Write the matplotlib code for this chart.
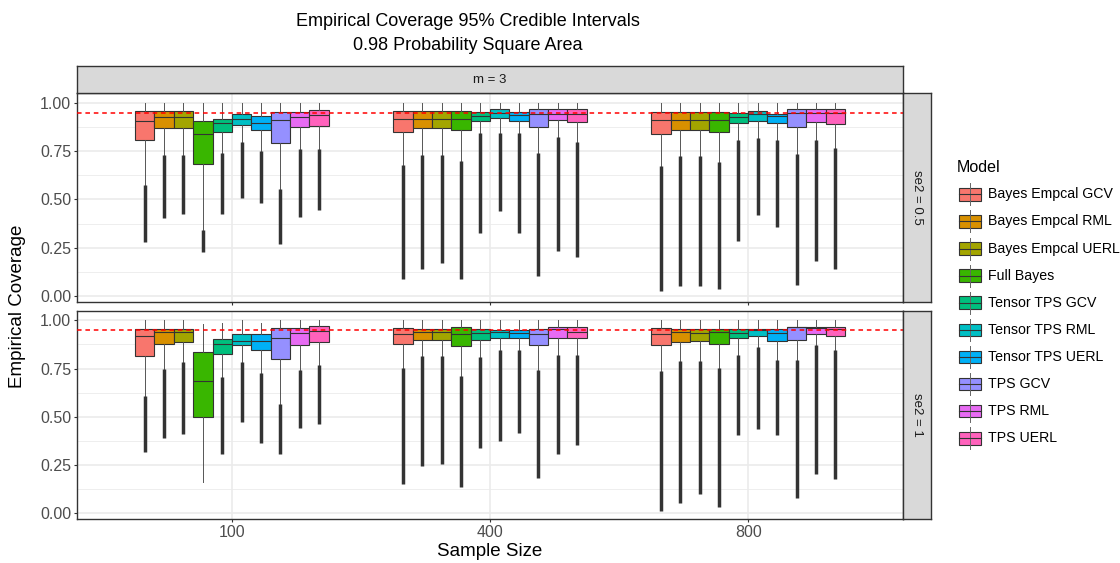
import numpy as np
import matplotlib
matplotlib.use("Agg")
import matplotlib.pyplot as plt
from matplotlib.patches import Rectangle

plt.rcParams['font.family'] = ['Liberation Sans', 'DejaVu Sans']

### Figure size in pixels
W, H = 1120, 563

### Categories
models = ["Bayes Empcal GCV", "Bayes Empcal RML", "Bayes Empcal UERL", "Full Bayes",
          "Tensor TPS GCV", "Tensor TPS RML", "Tensor TPS UERL", "TPS GCV", "TPS RML", "TPS UERL"]
colors = ["#F8766D", "#D89000", "#A3A500", "#39B600", "#00BF7D",
          "#00BFC4", "#00B0F6", "#9590FF", "#E76BF3", "#FF62BC"]
sizes = ["100", "400", "800"]
facets = ["se2 = 0.5", "se2 = 1"]
target = 0.95

### se2 = 0.5 (rows: sample size 100, 400, 800; columns: models)
q3_a = [[0.958, 0.958, 0.958, 0.908, 0.919, 0.943, 0.931, 0.951, 0.951, 0.962],
        [0.960, 0.960, 0.960, 0.960, 0.953, 0.967, 0.953, 0.967, 0.967, 0.967],
        [0.951, 0.951, 0.951, 0.951, 0.946, 0.960, 0.943, 0.967, 0.967, 0.967]]
med_a = [[0.908, 0.929, 0.929, 0.839, 0.896, 0.919, 0.896, 0.914, 0.929, 0.936],
         [0.919, 0.919, 0.919, 0.919, 0.931, 0.946, 0.936, 0.941, 0.941, 0.941],
         [0.912, 0.912, 0.912, 0.912, 0.929, 0.945, 0.934, 0.946, 0.946, 0.946]]
q1_a = [[0.807, 0.869, 0.869, 0.684, 0.850, 0.884, 0.860, 0.794, 0.874, 0.881],
        [0.848, 0.869, 0.869, 0.858, 0.908, 0.922, 0.908, 0.876, 0.910, 0.900],
        [0.841, 0.862, 0.862, 0.851, 0.895, 0.907, 0.895, 0.874, 0.903, 0.891]]
wlo_a = [[0.575, 0.730, 0.730, 0.342, 0.743, 0.800, 0.753, 0.554, 0.760, 0.760],
         [0.679, 0.731, 0.731, 0.701, 0.846, 0.846, 0.846, 0.739, 0.824, 0.800],
         [0.675, 0.725, 0.725, 0.696, 0.808, 0.820, 0.808, 0.736, 0.808, 0.768]]
whi_a = [[1.0] * 10, [1.0] * 10, [1.0] * 10]
min_a = [[0.281, 0.403, 0.425, 0.226, 0.425, 0.506, 0.480, 0.271, 0.408, 0.446],
         [0.088, 0.138, 0.169, 0.086, 0.325, 0.442, 0.325, 0.104, 0.235, 0.204],
         [0.026, 0.053, 0.053, 0.034, 0.287, 0.420, 0.356, 0.057, 0.183, 0.141]]

### se2 = 1
q3_b = [[0.957, 0.957, 0.957, 0.836, 0.905, 0.931, 0.931, 0.960, 0.960, 0.969],
        [0.960, 0.957, 0.957, 0.967, 0.953, 0.950, 0.950, 0.957, 0.967, 0.967],
        [0.960, 0.957, 0.957, 0.957, 0.957, 0.957, 0.957, 0.967, 0.967, 0.967]]
med_b = [[0.919, 0.938, 0.938, 0.684, 0.876, 0.895, 0.895, 0.910, 0.936, 0.945],
         [0.927, 0.940, 0.940, 0.927, 0.933, 0.941, 0.936, 0.931, 0.957, 0.941],
         [0.931, 0.938, 0.933, 0.938, 0.936, 0.948, 0.936, 0.964, 0.960, 0.957]]
q1_b = [[0.817, 0.879, 0.888, 0.499, 0.826, 0.872, 0.848, 0.800, 0.872, 0.888],
        [0.877, 0.898, 0.898, 0.869, 0.896, 0.908, 0.908, 0.872, 0.907, 0.907],
        [0.870, 0.890, 0.891, 0.879, 0.907, 0.921, 0.893, 0.896, 0.931, 0.921]]
wlo_b = [[0.608, 0.750, 0.784, 0.162, 0.706, 0.784, 0.727, 0.565, 0.741, 0.767],
         [0.753, 0.813, 0.813, 0.710, 0.810, 0.845, 0.845, 0.741, 0.819, 0.819],
         [0.737, 0.788, 0.788, 0.755, 0.820, 0.862, 0.793, 0.793, 0.870, 0.845]]
whi_b = [[1.0, 1.0, 1.0, 0.979, 0.986, 1.0, 0.986, 1.0, 1.0, 1.0],
         [1.0] * 10, [1.0] * 10]
min_b = [[0.318, 0.390, 0.413, np.nan, 0.309, 0.473, 0.364, 0.306, 0.444, 0.465],
         [0.149, 0.243, 0.257, 0.136, 0.340, 0.373, 0.418, 0.183, 0.309, 0.352],
         [0.010, 0.053, 0.102, 0.033, 0.408, 0.435, 0.408, 0.081, 0.202, 0.176]]

panels = [(q1_a, med_a, q3_a, wlo_a, whi_a, min_a),
          (q1_b, med_b, q3_b, wlo_b, whi_b, min_b)]

EDGE = "#333333"
GRID = "#EBEBEB"


def px_box(x0, y0, x1, y1):
    ### pixel box (top-left origin) -> figure fraction rect
    return [x0 / W, 1 - y1 / H, (x1 - x0) / W, (y1 - y0) / H]


fig = plt.figure(figsize=(W / 100, H / 100), dpi=100)

### Panel pixel extents
PX0, PX1 = 77, 903
rows_px = [(93.3, 301.7), (310.7, 519.0)]

dw = 0.075
for r, (y0, y1) in enumerate(rows_px):
    ax = fig.add_axes(px_box(PX0, y0, PX1, y1))
    q1, med, q3, wlo, whi, fmin = panels[r]

    ### grid
    ax.set_xlim(0.4, 3.6)
    ax.set_ylim(-0.03, 1.05)
    for yv in [0.125, 0.375, 0.625, 0.875]:
        ax.axhline(yv, color=GRID, lw=0.6, zorder=0)
    for yv in [0, 0.25, 0.5, 0.75, 1.0]:
        ax.axhline(yv, color=GRID, lw=1.2, zorder=0)
    for xv in [1, 2, 3]:
        ax.axvline(xv, color=GRID, lw=1.2, zorder=0)

    ### boxes
    for g in range(3):
        for k in range(10):
            x = g + 1 + (k - 4.5) * dw
            st = dict(med=med[g][k], q1=q1[g][k], q3=q3[g][k],
                      whislo=wlo[g][k], whishi=whi[g][k], fliers=[])
            ax.bxp([st], positions=[x], widths=dw, patch_artist=True,
                   showcaps=False, manage_ticks=False,
                   boxprops=dict(facecolor=colors[k], edgecolor=EDGE, lw=0.8),
                   medianprops=dict(color=EDGE, lw=0.8),
                   whiskerprops=dict(color="#555555", lw=0.7))
            if not np.isnan(fmin[g][k]):
                ax.vlines(x, fmin[g][k], wlo[g][k], color=EDGE, lw=2.5, zorder=3)

    ax.axhline(target, color="red", lw=1.1, ls=(0, (3, 2.5)), zorder=4)

    ax.set_yticks([0, 0.25, 0.5, 0.75, 1.0])
    ax.set_yticklabels(["0.00", "0.25", "0.50", "0.75", "1.00"])
    ax.set_xticks([1, 2, 3])
    if r == 1:
        ax.set_xticklabels(sizes)
    else:
        ax.set_xticklabels([])
        ax.tick_params(axis="x", length=0)
    ax.tick_params(colors=EDGE, labelcolor="#4D4D4D", labelsize=11.5,
                   length=2.2, width=0.8, pad=2)
    for s in ax.spines.values():
        s.set_color(EDGE)
        s.set_linewidth(1.0)

    ### right strip
    sx = fig.add_axes(px_box(PX1, y0, 930.7, y1))
    sx.set_facecolor("#D9D9D9")
    sx.set_xticks([])
    sx.set_yticks([])
    for s in sx.spines.values():
        s.set_color(EDGE)
        s.set_linewidth(1.0)
    sx.text(0.5, 0.5, facets[r], rotation=270, ha="center", va="center",
            fontsize=9.5, color="#1A1A1A", transform=sx.transAxes)

### top strip
tx = fig.add_axes(px_box(PX0, 66, PX1, 93.3))
tx.set_facecolor("#D9D9D9")
tx.set_xticks([])
tx.set_yticks([])
for s in tx.spines.values():
    s.set_color(EDGE)
    s.set_linewidth(1.0)
tx.text(0.5, 0.5, "m = 3", ha="center", va="center", fontsize=9.5,
        color="#1A1A1A", transform=tx.transAxes)

### titles
fig.text(468 / W, 1 - 22 / H, "Empirical Coverage 95% Credible Intervals",
         ha="center", va="center", fontsize=13)
fig.text(468 / W, 1 - 45 / H, "0.98 Probability Square Area",
         ha="center", va="center", fontsize=13)
fig.text(490 / W, 1 - 552 / H, "Sample Size", ha="center", va="center", fontsize=13.5)
fig.text(18 / W, 1 - 306 / H, "Empirical Coverage", ha="center", va="center",
         rotation=90, fontsize=13.5)

### legend (drawn in pixel space)
lax = fig.add_axes([0, 0, 1, 1], zorder=5)
lax.set_xlim(0, W)
lax.set_ylim(H, 0)
lax.axis("off")
lax.patch.set_alpha(0)
lax.text(957, 168, "Model", ha="left", va="center", fontsize=11.5)
for k, name in enumerate(models):
    yc = 194.3 + k * 27.1
    lax.plot([970, 970], [yc - 11, yc + 11], color="#666666", lw=0.7)
    lax.add_patch(Rectangle((959, yc - 6.3), 22, 12.6, facecolor=colors[k],
                            edgecolor=EDGE, lw=0.8))
    lax.plot([959, 981], [yc, yc], color=EDGE, lw=0.8)
    lax.text(988, yc, name, ha="left", va="center", fontsize=10.2)

fig.savefig("out.png", dpi=100)
